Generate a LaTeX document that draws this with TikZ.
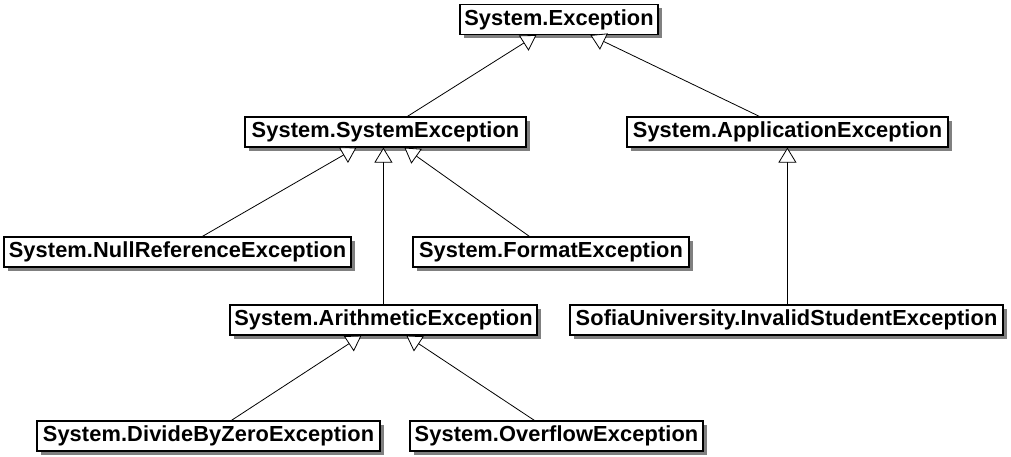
\documentclass[tikz,border=0pt]{standalone}
\usepackage{fontspec}
\setmainfont{Liberation Sans}[LetterSpace=0.5]
\usetikzlibrary{arrows.meta,shadows}
\definecolor{shadowgray}{RGB}{128,128,128}
\begin{document}
\begin{tikzpicture}[x=1pt,y=-1pt,
  cls/.style={draw=black, line width=1.2pt, fill=white, inner sep=0pt,
    minimum height=30pt, font=\fontsize{21.8pt}{24pt}\selectfont\bfseries,
    general shadow={shadow xshift=4pt, shadow yshift=-4pt, fill=shadowgray}},
  gen/.style={draw=black, line width=0.8pt,
    -{Triangle[length=15pt, width=18pt, fill=white, line join=miter]}}]
\useasboundingbox (0,0) rectangle (1011,457);
\node[cls, minimum width=198pt] (exc) at (559,19.5) {System.Exception};
\node[cls, minimum width=281pt] (sys) at (385.5,132) {System.SystemException};
\node[cls, minimum width=321pt] (app) at (787.5,132) {System.ApplicationException};
\node[cls, minimum width=347pt] (nul) at (177.5,252) {System.NullReferenceException};
\node[cls, minimum width=276pt] (fmt) at (551,252) {System.FormatException};
\node[cls, minimum width=307pt] (ari) at (383.5,320) {System.ArithmeticException};
\node[cls, minimum width=433pt] (sof) at (786.5,320) {SofiaUniversity.InvalidStudentException};
\node[cls, minimum width=343pt] (div) at (208.5,436) {System.DivideByZeroException};
\node[cls, minimum width=293pt] (ovf) at (556.5,436) {System.OverflowException};
\draw[gen] ([xshift=163pt]sys.north west) -- ([xshift=77pt]exc.south west);
\draw[gen] ([xshift=133pt]app.north west) -- ([xshift=131pt]exc.south west);
\draw[gen] ([xshift=199pt]nul.north west) -- ([xshift=112pt]sys.south west);
\draw[gen] ([xshift=117pt]fmt.north west) -- ([xshift=160pt]sys.south west);
\draw[gen] ([xshift=154pt]ari.north west) -- ([xshift=139pt]sys.south west);
\draw[gen] ([xshift=218pt]sof.north west) -- ([xshift=161pt]app.south west);
\draw[gen] ([xshift=195pt]div.north west) -- ([xshift=132pt]ari.south west);
\draw[gen] ([xshift=125pt]ovf.north west) -- ([xshift=177pt]ari.south west);
\end{tikzpicture}
\end{document}
